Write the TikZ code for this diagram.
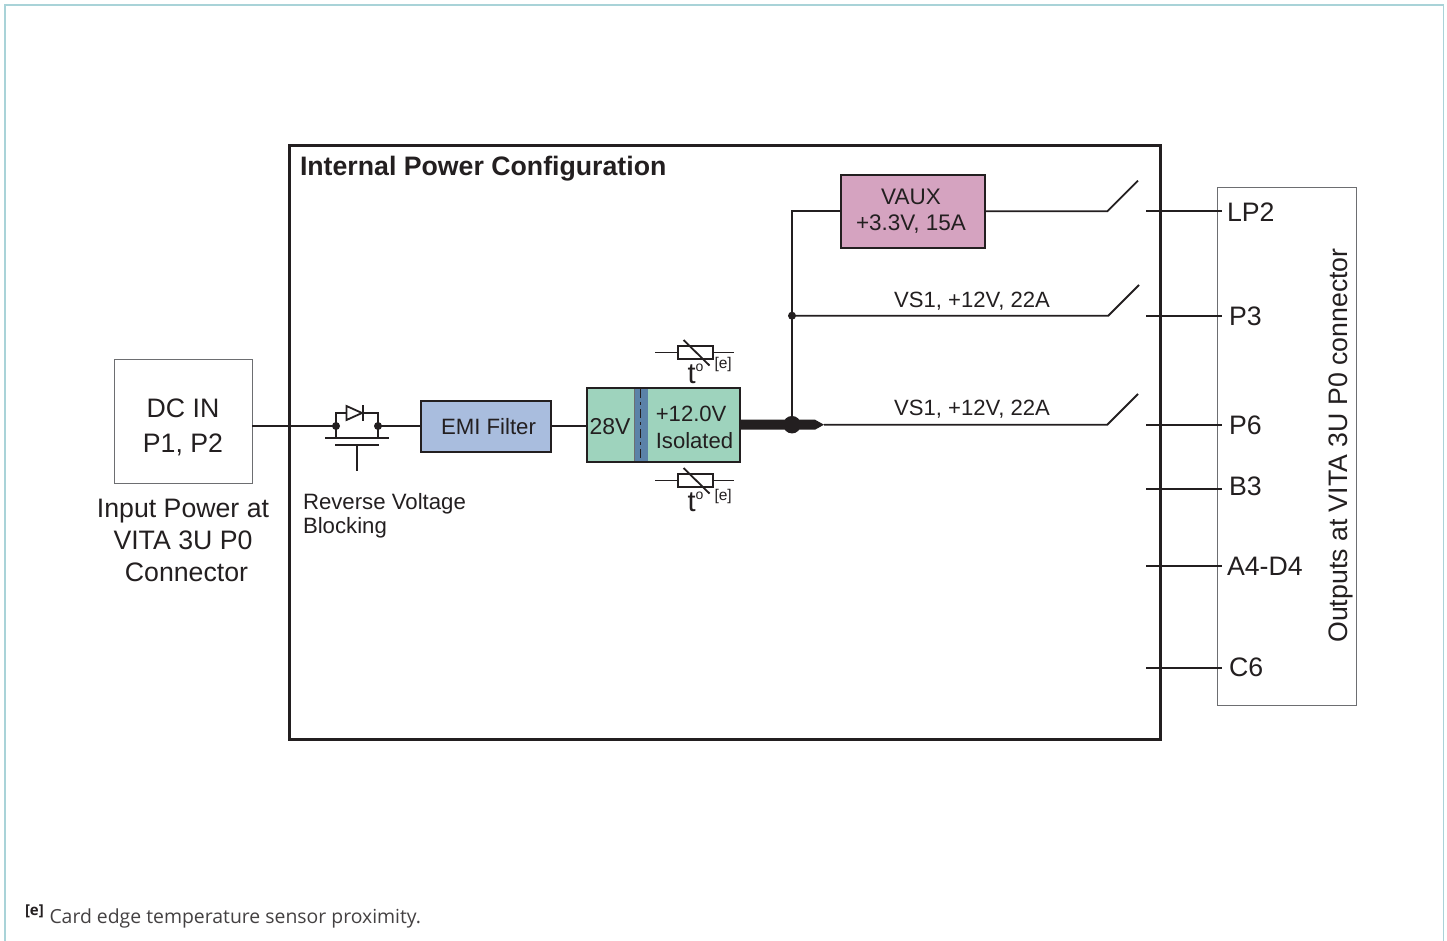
\documentclass[tikz,border=0pt]{standalone}
\usepackage{fontspec}
\setmainfont{Liberation Sans}
\newfontfamily\notefont{Open Sans}
\definecolor{ink}{HTML}{231F20}
\definecolor{frameteal}{HTML}{A9D3D8}
\definecolor{emiblue}{HTML}{A9BDDE}
\definecolor{convgreen}{HTML}{9ED3BD}
\definecolor{barrier}{HTML}{5B82A8}
\definecolor{vauxpink}{HTML}{D5A3C0}
\definecolor{greyline}{HTML}{6D6E71}
\tikzset{
  every node/.style={outer sep=0pt},
  wire/.style={draw=ink,line width=1.8pt},
  block/.style={draw=ink,line width=2pt,inner sep=0pt,text=ink,align=center},
  port/.style={draw=greyline,line width=1pt,fill=white,inner sep=0pt,text=ink,align=center},
  lab/.style={inner sep=0pt,text=ink,align=center},
  pinlab/.style={inner sep=0pt,text=ink,anchor=west,font=\fontsize{26.7}{26.7}\selectfont},
  rail/.style={inner sep=0pt,text=ink,font=\fontsize{22.1}{22.1}\selectfont},
  jdot/.style={circle,fill=ink,inner sep=0pt,minimum size=#1},
  res/.style={draw=ink,line width=1.8pt,fill=white,minimum width=35pt,minimum height=13pt,inner sep=0pt},
}
\newcommand{\sensor}[3]{%
  \node[res] (#2r) at (#1) {};
  \draw[wire] ([xshift=-23pt]#2r.west) coordinate (#2a) -- (#2r.west);
  \draw[wire] (#2r.east) -- ([xshift=21pt]#2r.east);
  \draw[ink,line width=1.8pt] ([shift={(-12pt,12.5pt)}]#2r.center) -- ([shift={(14pt,-13pt)}]#2r.center);
  \node[lab,font=\fontsize{29}{29}\selectfont,anchor=base west] (#2t) at ([shift={(-8pt,-30.5pt)}]#2r.center) {t};
  \node[lab,font=\fontsize{14}{14}\selectfont,anchor=base west] (#2o) at ([shift={(0pt,-18.5pt)}]#2r.center) {o};
  \node[lab,font=\fontsize{15.5}{15.5}\selectfont,anchor=base west] (#2e) at ([shift={(19pt,-#3pt)}]#2r.center) {[e]};
}
\begin{document}
\begin{tikzpicture}[x=1pt,y=-1pt]
\useasboundingbox (0,0) rectangle (1447,941);
\node[draw=frameteal,line width=1.6pt,minimum width=1438.5pt,minimum height=960pt,anchor=north west,inner sep=0pt] (frame) at (5,5) {};
\node[draw=ink,line width=3pt,minimum width=871pt,minimum height=593pt,anchor=north west,inner sep=0pt] (inner) at (289,146) {};
\node[lab,anchor=base west,font=\bfseries\fontsize{26.7}{26.7}\selectfont] (title) at (300,176) {Internal Power Configuration};

% ports
\node[port,minimum width=138pt,minimum height=124pt,anchor=north west] (dcin) at (114,359.5) {};
\node[lab,font=\fontsize{26.7}{35}\selectfont] (dctext) at (183,427) {DC IN\\P1, P2};
\node[lab,font=\fontsize{26.7}{32}\selectfont] (dclab) at (183,540) {Input Power at\\VITA 3U P0\\\hspace{7pt}Connector};
\node[port,minimum width=138.5pt,minimum height=517pt,anchor=north west] (out) at (1217.5,188) {};
\node[lab,rotate=90,font=\fontsize{26.7}{26.7}\selectfont] (outlab) at (1340.5,445.5) {Outputs at VITA 3U P0 connector};

% blocks
\node[block,fill=emiblue,minimum width=130pt,minimum height=51.5pt,anchor=north west,font=\fontsize{22.2}{22.2}\selectfont] (emi) at (421,400.5) {};
\node[lab,font=\fontsize{22.2}{22.2}\selectfont] (emitext) at (488.5,426.5) {EMI Filter};
\node[block,fill=convgreen,minimum width=153pt,minimum height=73.5pt,anchor=north west] (conv) at (587,388.3) {};
\fill[barrier] (634.5,389) rectangle (648,461);
\draw[greyline,line width=1pt] (634.5,389) -- (634.5,461);
\draw[ink,line width=1.4pt,dash pattern=on 9pt off 4pt on 3pt off 4pt] (640.7,389) -- (640.7,461);
\node[lab,font=\fontsize{23}{23}\selectfont] (v28) at (610,426.5) {28V};
\node[lab,align=left,font=\fontsize{22.1}{27}\selectfont] (v12) at (694.5,427) {+12.0V\\Isolated};
\node[block,fill=vauxpink,minimum width=144.5pt,minimum height=73pt,anchor=north west] (vaux) at (840.5,175) {};
\node[lab,font=\fontsize{22.5}{26}\selectfont] (vauxtext) at (911,211.5) {VAUX\\+3.3V, 15A};

% coordinates
\coordinate (jtop) at (792,315.7);
\coordinate (jbot) at (792,424.7);
\coordinate (tl) at (792,211.3);
\coordinate (sw1) at (1107.3,211.3); \coordinate (sw1e) at (1138,180.7); \coordinate (p1) at (1146,211.3);
\coordinate (sw2) at (1108.3,315.7); \coordinate (sw2e) at (1139,285); \coordinate (p2) at (1146,315.7);
\coordinate (sw3) at (1107.3,424.7); \coordinate (sw3e) at (1138,394); \coordinate (p3) at (1146,424.7);
\coordinate (p4) at (1146,488.7); \coordinate (p5) at (1146,566); \coordinate (p6) at (1146,667.7);

% input wires & MOSFET
\coordinate (ml) at (336,426); \coordinate (mr) at (378,426);
\draw[wire] (dcin.east |- ml) -- (ml);
\draw[wire] (mr) -- (emi.west |- mr);
\draw[wire] (emi.east |- mr) -- (conv.west |- mr);
\draw[wire] (336,438.3) -- (ml) -- (336,412.7) -- (346.5,412.7);
\draw[wire] (378,438.3) -- (mr) -- (378,412.7) -- (362.7,412.7);
\draw[wire,line join=miter] (346.5,406) -- (346.5,420) -- (362,413) -- cycle;
\draw[wire] (362.7,405) -- (362.7,421);
\draw[wire] (325,438.3) -- (389,438.3);
\draw[wire] (335,444.7) -- (379,444.7);
\draw[wire] (357,445) -- (357,471);
\node[jdot=8pt] (dl) at (ml) {};
\node[jdot=8pt] (dr) at (mr) {};
\node[lab,anchor=north west,align=left,font=\fontsize{22.2}{24}\selectfont] (rvb) at (303,493) {Reverse Voltage\\Blocking};

% sensors
\sensor{695.5,352.5}{sa}{16}
\sensor{695.5,480.5}{sb}{20}

% output rail
\node[jdot=17.5pt] (jmain) at (jbot) {};
\fill[ink] (conv.east |- 0,419.7) -- (815,419.7) -- (824,424.7) -- (815,429.7) -- (conv.east |- 0,429.7) -- cycle;
\draw[wire] (824,424.7) -- (sw3) -- (sw3e);
\draw[wire] (jbot) -- (tl) -- (vaux.west |- tl);
\draw[wire] (vaux.east |- sw1) -- (sw1) -- (sw1e);
\draw[wire] (jtop) -- (sw2) -- (sw2e);
\node[jdot=8pt] (dt) at (jtop) {};
\node[rail,anchor=base] (r1) at (972,307) {VS1, +12V, 22A};
\node[rail,anchor=base] (r2) at (972,415) {VS1, +12V, 22A};

% pins
\coordinate (q1) at (1222,211.3); \coordinate (q2) at (1222,315.7); \coordinate (q3) at (1222,424.7);
\coordinate (q4) at (1222,488.7); \coordinate (q5) at (1222,566); \coordinate (q6) at (1222,667.7);
\foreach \a/\b in {p1/q1,p2/q2,p3/q3,p4/q4,p5/q5,p6/q6} \draw[wire] (\a) -- (\b);
\node[pinlab] (lp2) at (1227,212) {LP2};
\node[pinlab] (pp3) at (1229,316) {P3};
\node[pinlab] (pp6) at (1229,425) {P6};
\node[pinlab] (pb3) at (1229,486) {B3};
\node[pinlab] (pa4) at (1227,566) {A4-D4};
\node[pinlab] (pc6) at (1229,667) {C6};

% footnote
\node[anchor=base west,inner sep=0pt,text=ink!85,font=\notefont\fontsize{19.4}{19.4}\selectfont] (note) at (49.5,923) {Card edge temperature sensor proximity.};
\node[anchor=base west,inner sep=0pt,text=ink,font=\notefont\bfseries\fontsize{15}{15}\selectfont] (notee) at (25,915) {[e]};
\end{tikzpicture}
\end{document}
